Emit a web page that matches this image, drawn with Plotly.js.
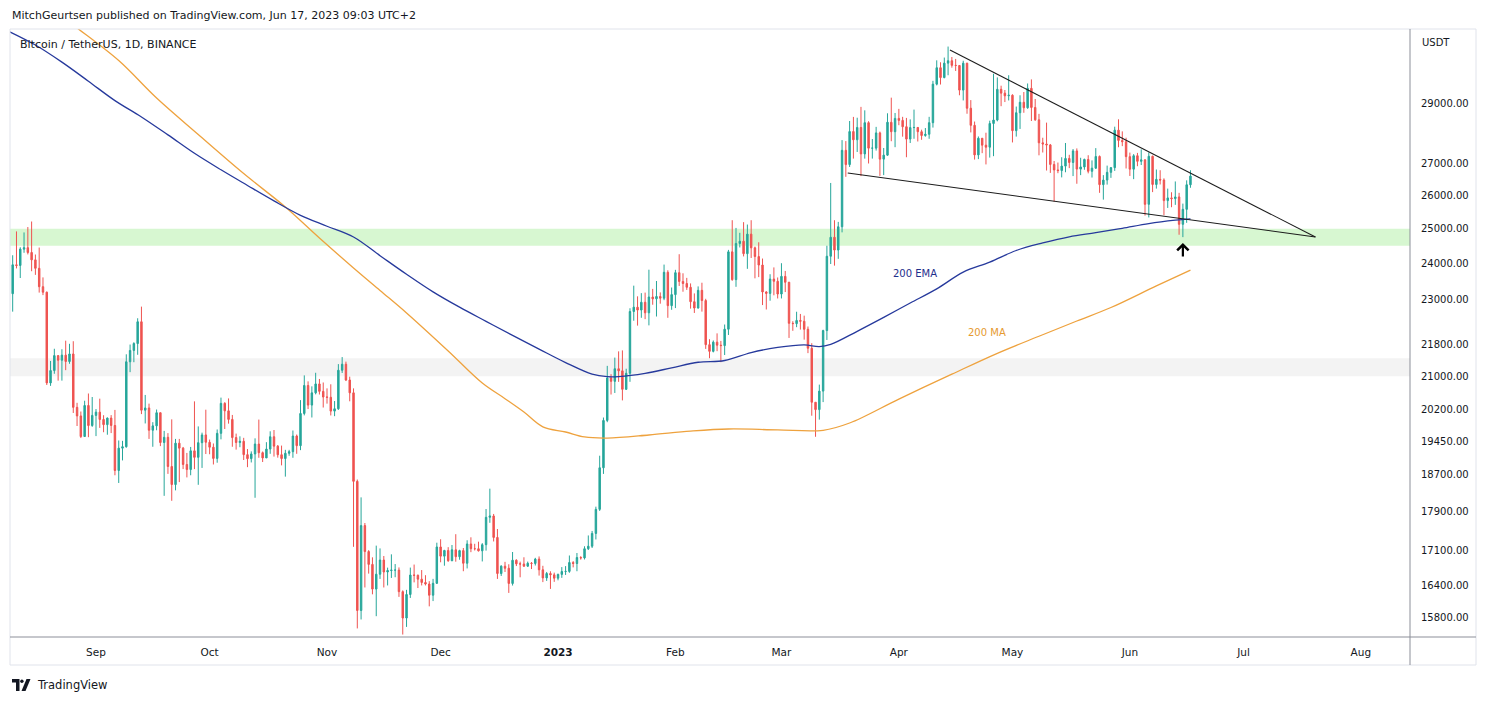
<!DOCTYPE html>
<html>
<head>
<meta charset="utf-8">
<script src="https://cdn.plot.ly/plotly-3.0.1.min.js"></script>
<style>
html,body{margin:0;padding:0;background:#fff;}
#chart{width:1488px;height:703px;}
</style>
</head>
<body>
<div id="chart"></div>
<script>
// ---- Daily candles BTC/USDT, first candle 2022-08-10 ----
const firstDay = '2022-08-10';
const open = [
// Aug
23150,23954,23935,24401,24443,24305,24094,23855,23342,23191,20834,21140,21517,21400,21529,21368,21559,20241,20037,19555,20285,19811,
// Sep
20050,20127,19953,19832,19986,19812,18786,19289,19320,21361,21649,21826,22395,20173,20226,19701,19803,20113,19417,19537,18875,18477,19402,19289,18920,18807,19227,19080,19413,19592,
// Oct
19423,19310,19056,19629,20337,20158,19955,19531,19417,19446,19141,19051,19157,19382,19185,19067,19268,19550,19334,19139,19053,19172,19208,19567,19345,20095,20771,20295,20591,20809,20627,
// Nov
20490,20483,20151,20207,21148,21299,20905,20591,18547,15922,17602,17070,16813,16330,16619,16900,16663,16692,16700,16700,16280,15781,16226,16603,16598,16522,16458,16428,16212,16442,
// Dec
17163,16978,17092,16886,17106,16967,17089,16836,17224,17128,17127,17085,17209,17775,17803,17357,16633,16778,16737,16439,16896,16824,16821,16778,16836,16832,16919,16706,16547,16633,16607,
// Jan
16542,16616,16672,16675,16850,16831,16950,16943,17127,17178,17440,17943,18847,19930,20955,20872,21186,21133,20677,21072,22668,22784,22707,22917,22633,23060,23009,23074,23027,23743,22826,
// Feb
23125,23732,23488,23431,23326,22932,22762,23242,22963,21797,21625,21862,21783,21773,22199,24324,23538,24566,24631,24271,24838,24439,24189,23947,23198,23158,23554,23492,
// Mar
23141,23629,23465,22354,22346,22430,22409,22197,21705,20363,20187,20633,22163,24197,24746,24375,25055,27423,26965,28038,27767,28175,27307,28333,27493,27494,27994,27139,27268,28348,28033,
// Apr
28478,28411,28199,27790,28169,28175,28033,27906,27948,28333,29653,30235,29884,30399,30485,30319,30315,29445,30397,28822,28245,27276,27817,27591,27525,28307,28422,29473,29340,29248,
// May
29268,28068,28669,29026,28838,29506,28848,28430,27668,27628,27599,26969,26795,26775,26917,27162,27033,27405,26821,26890,27129,26753,26851,27225,26334,26476,26719,26868,28085,27745,27702,
// Jun
27219,26819,27249,27069,27116,25728,27230,26339,26498,26477,25841,25925,25902,25954,25128,25576,26330
];
const high = [
24226,24918,24456,24888,25047,25211,24247,24447,23600,23208,21382,21692,21522,21680,21900,21819,21886,20350,20142,20400,20575,20490,
20200,20450,20054,20000,20056,20180,19464,19456,21550,21800,21860,22488,22799,20540,20330,19890,20189,20115,19686,19634,19956,19500,19500,19316,19180,19316,20385,19790,19645,20185,
19485,19395,19719,20475,20365,20456,20060,19623,19560,19525,19268,19215,19513,19951,19212,19425,19676,19706,19360,19347,19250,19250,19695,19601,20415,21020,20872,20750,21085,20931,20845,
20700,20800,20393,21302,21480,21365,20988,20700,18587,18199,17656,17099,16954,17190,17134,16981,16749,17014,16820,16753,16305,16315,16750,16810,16613,16701,16600,16483,16528,17250,
17320,17105,17159,17203,17424,17107,17142,17299,17360,17227,17271,17241,17950,18387,17846,17531,16796,16864,16816,17061,16915,16868,16955,16869,16860,16944,16972,16785,16664,16677,16650,
16630,16760,16779,16991,16879,17041,16977,17177,17398,17491,18000,19117,19999,21258,21050,21467,21625,21650,21186,22755,23371,23078,23165,23180,23816,23282,23500,23185,23960,23800,23320,
23812,24255,23715,23587,23433,23158,23350,23452,23011,21938,21906,22090,21894,22322,24380,25250,25021,24877,25192,25121,25250,24476,24600,24132,23219,23689,23880,23598,
23999,23781,23476,22410,22662,22603,22557,22270,21834,20370,20792,22185,24500,26386,25250,25200,27756,27724,28390,28528,28500,28868,28750,28383,27792,28194,28037,27499,28650,29184,28660,
28800,28530,28494,28444,28775,28188,28100,28155,28530,29770,30500,30430,30600,31000,30620,30550,30320,30485,30412,29100,28372,27877,27820,28000,28400,30020,29890,29599,29449,29968,
29300,28879,29266,29379,29677,29820,29138,28631,27834,28336,27630,27080,27030,27200,27662,27279,27465,27485,27183,27155,27265,27099,27495,27258,26631,26932,26888,28200,28447,28044,27835,
27350,27300,27340,27455,27133,27355,27253,26808,26786,26530,26210,26098,26433,26080,25750,26468,26785
];
const low = [
22664,23852,23583,24296,24250,23773,23671,23180,23111,20783,20761,21060,20890,20890,21150,21310,20107,19800,19520,19550,19540,19780,
19565,19755,19655,19597,19635,18680,18511,19011,19300,21100,21350,21538,20080,19860,19500,19320,19700,19335,18232,18711,18125,18350,18530,18817,18633,18680,18816,18471,18843,19155,
19150,18920,18959,19490,19730,19855,19320,19255,19310,19020,18860,18965,18190,19070,18975,19064,19160,19097,19073,18900,18650,19115,19070,19160,19243,20050,20200,20000,20554,20550,20237,
20330,20048,20031,20180,21080,20880,20386,17166,15588,15754,16361,16631,16229,15815,16527,16361,16400,16546,16560,16180,15476,15616,16160,16460,16350,16400,16400,16000,16100,16428,
16855,16787,16865,16878,16867,16906,16678,16733,17058,17092,17071,16872,17089,17660,17275,16527,16585,16663,16256,16398,16780,16559,16763,16765,16721,16791,16592,16465,16488,16333,16470,
16500,16548,16605,16647,16754,16678,16908,16911,17101,17142,17316,17909,18710,19889,20550,20588,20860,20408,20661,20861,22422,22293,22500,22464,22300,22850,22534,22878,22974,22500,22714,
22760,23363,23204,23253,22745,22629,22745,22665,21688,21451,21599,21630,21351,21532,22048,23506,23339,24450,24192,23840,24148,23574,23608,22841,22722,22959,23106,23020,
23020,23195,21971,22157,22252,22189,21927,21580,20042,19549,19950,20367,21918,23976,23930,24124,24890,26578,26889,27157,27370,26601,27155,27000,27157,27415,26606,26631,27243,27720,27525,
28250,27869,27200,27662,27800,27711,27766,27868,27800,28170,29610,29640,29860,29967,30236,30120,29266,29088,28634,28010,27125,27140,27331,26970,27189,27235,28379,28891,29033,29088,
27680,27872,28125,28667,28802,28390,28395,27262,27353,26777,26702,25811,26692,26560,26722,26852,26601,26361,26631,26800,26687,26555,26829,26080,25871,26335,26545,26765,27524,27559,26841,
26605,26505,26914,26951,25388,25333,26102,26210,26339,25400,25619,25640,25712,24820,24750,25172,26236
];
const close = [
23954,23935,24403,24442,24305,24094,23855,23342,23191,20834,21140,21517,21400,21529,21368,21559,20241,20037,19555,20285,19811,20050,
20127,19953,19832,19986,19812,18786,19289,19320,21361,21649,21826,22395,20173,20226,19701,19803,20113,19417,19537,18875,18477,19402,19289,18920,18807,19227,19080,19413,19592,19423,
19310,19056,19629,20337,20158,19955,19531,19417,19446,19141,19051,19157,19382,19185,19067,19268,19550,19334,19139,19053,19172,19208,19567,19345,20095,20771,20295,20591,20809,20627,20490,
20483,20151,20207,21148,21299,20905,20591,18547,15922,17602,17070,16813,16330,16619,16900,16663,16692,16700,16700,16280,15781,16226,16603,16598,16522,16458,16428,16212,16442,17163,
16978,17092,16886,17106,16967,17089,16836,17224,17128,17127,17085,17209,17775,17803,17357,16633,16778,16737,16439,16896,16824,16821,16778,16836,16832,16919,16706,16547,16633,16607,16542,
16616,16672,16675,16850,16831,16950,16943,17127,17178,17440,17943,18847,19930,20955,20872,21186,21133,20677,21072,22668,22784,22707,22917,22633,23060,23009,23074,23027,23743,22826,23125,
23732,23488,23431,23326,22932,22762,23242,22963,21797,21625,21862,21783,21773,22199,24324,23538,24566,24631,24271,24838,24439,24189,23947,23198,23158,23554,23492,23141,
23629,23465,22354,22346,22430,22409,22197,21705,20363,20187,20633,22163,24197,24746,24375,25055,27423,26965,28038,27767,28175,27307,28333,27493,27494,27994,27139,27268,28348,28033,28478,
28411,28199,27790,28169,28175,28033,27906,27948,28333,29653,30235,29884,30399,30485,30319,30315,29445,30397,28822,28245,27276,27817,27591,27525,28307,28422,29473,29340,29248,29268,
28068,28669,29026,28838,29506,28848,28430,27668,27628,27599,26969,26795,26775,26917,27162,27033,27405,26821,26890,27129,26753,26851,27225,26334,26476,26719,26868,28085,27745,27702,27219,
26819,27249,27069,27116,25728,27230,26339,26498,26477,25841,25925,25902,25954,25128,25576,26330,26600
];

// ---- 200 EMA (blue) and 200 MA (orange) ----
const emaDates = ['2022-08-09','2022-08-16','2022-08-23','2022-08-30','2022-09-06','2022-09-13','2022-09-20','2022-09-27','2022-10-04','2022-10-11','2022-10-18','2022-10-25','2022-11-01','2022-11-08','2022-11-15','2022-11-22','2022-11-29','2022-12-06','2022-12-13','2022-12-20','2022-12-27','2023-01-03','2023-01-10','2023-01-14','2023-01-17','2023-01-24','2023-01-31','2023-02-07','2023-02-14','2023-02-21','2023-02-28','2023-03-07','2023-03-11','2023-03-14','2023-03-21','2023-03-28','2023-04-04','2023-04-11','2023-04-18','2023-04-25','2023-05-02','2023-05-09','2023-05-16','2023-05-23','2023-05-30','2023-06-06','2023-06-13','2023-06-17'];
const emaValues = [31560,31056,30434,29756,29083,28527,27928,27326,26799,26308,25833,25396,25070,24755,24214,23688,23200,22784,22406,22037,21684,21341,21051,20987,20989,21070,21209,21349,21393,21594,21725,21790,21748,21804,22144,22511,22896,23282,23748,24031,24362,24580,24760,24880,25010,25150,25250,25290];
const maDates = ['2022-08-22','2022-08-27','2022-09-07','2022-09-17','2022-09-28','2022-10-10','2022-10-21','2022-10-30','2022-11-08','2022-11-15','2022-11-22','2022-12-03','2022-12-12','2022-12-18','2022-12-23','2022-12-28','2023-01-03','2023-01-08','2023-01-14','2023-01-25','2023-02-05','2023-02-15','2023-02-28','2023-03-12','2023-03-19','2023-04-01','2023-04-15','2023-04-27','2023-05-08','2023-05-18','2023-05-27','2023-06-08','2023-06-17'];
const maValues = [32240,31690,30490,29170,27940,26680,25647,24724,23865,23239,22629,21635,20830,20450,20130,19780,19660,19545,19520,19590,19680,19730,19710,19700,19870,20440,21050,21575,22015,22415,22775,23365,23805];

// ---- Wedge lines ----
const upperLineDates = ['2023-04-14 12:00','2023-07-20'];
const upperLineValues = [30874,24754];
const lowerLineDates = ['2023-03-18 12:00','2023-07-20'];
const lowerLineValues = [26700,24754];

// ---- Zones ----
const greenZone = [24500,25000];
const greyZone = [21000,21450];

// ---- Axis ticks ----
const monthTicks = ['2022-09-01','2022-10-01','2022-11-01','2022-12-01','2023-01-01','2023-02-01','2023-03-01','2023-04-01','2023-05-01','2023-06-01','2023-07-01','2023-08-01'];
const monthLabels = ['Sep','Oct','Nov','Dec','<b>2023</b>','Feb','Mar','Apr','May','Jun','Jul','Aug'];
const priceTicks = [15800,16400,17100,17900,18700,19450,20200,21000,21800,23000,24000,25000,26000,27000,29000];

// ---- build ----
const dates = close.map((_, i) => {
  const d = new Date(Date.UTC(2022, 7, 10 + i));
  return d.toISOString().slice(0, 10);
});

const yLo = Math.log10(15431), yHi = Math.log10(31650);
const yp = v => (Math.log10(v) - yLo) / (yHi - yLo);
const px2x = px => (px - 10) / 1400;
const py2y = py => (637 - py) / 608;
const P = (a, b) => px2x(a) + ',' + py2y(b);

const traces = [
  {type:'candlestick', x:dates, open:open, high:high, low:low, close:close,
   increasing:{line:{color:'#26a69a', width:1}, fillcolor:'#26a69a'},
   decreasing:{line:{color:'#ef5350', width:1}, fillcolor:'#ef5350'},
   whiskerwidth:0, hoverinfo:'skip'},
  {type:'scatter', mode:'lines', x:maDates, y:maValues, line:{color:'#eea23e', width:1.3, shape:'spline', smoothing:1}, hoverinfo:'skip'},
  {type:'scatter', mode:'lines', x:emaDates, y:emaValues, line:{color:'#26399c', width:1.3, shape:'spline', smoothing:1}, hoverinfo:'skip'},
  {type:'scatter', mode:'lines', x:upperLineDates, y:upperLineValues, line:{color:'#1c1c1c', width:1.1}, hoverinfo:'skip'},
  {type:'scatter', mode:'lines', x:lowerLineDates, y:lowerLineValues, line:{color:'#1c1c1c', width:1.1}, hoverinfo:'skip'}
];

const layout = {
  width:1488, height:703,
  margin:{l:10, r:78, t:29, b:66},
  paper_bgcolor:'#ffffff', plot_bgcolor:'#ffffff',
  showlegend:false,
  boxgap:0.45,
  font:{family:'DejaVu Sans, Verdana, sans-serif', size:10, color:'#131722'},
  xaxis:{type:'date', range:['2022-08-09 07:00','2023-08-13 23:20'],
    tickmode:'array', tickvals:monthTicks, ticktext:monthLabels,
    showgrid:false, zeroline:false, showline:false,
    ticks:'outside', ticklen:5, tickcolor:'rgba(0,0,0,0)',
    tickfont:{size:10.5, color:'#131722'},
    rangeslider:{visible:false}, fixedrange:true},
  yaxis:{type:'log', side:'right', range:[yLo, yHi],
    tickmode:'array', tickvals:priceTicks, ticktext:priceTicks.map(v => v.toFixed(2)),
    showgrid:false, zeroline:false, showline:false,
    ticks:'outside', ticklen:8, tickcolor:'rgba(0,0,0,0)',
    tickfont:{size:10, color:'#131722'}, fixedrange:true},
  shapes:[
    {type:'rect', layer:'below', xref:'paper', yref:'paper', x0:0, x1:1, y0:yp(greenZone[0]), y1:yp(greenZone[1]), fillcolor:'#d7f7d1', line:{width:0}},
    {type:'rect', layer:'below', xref:'paper', yref:'paper', x0:0, x1:1, y0:yp(greyZone[0]), y1:yp(greyZone[1]), fillcolor:'#f3f3f3', line:{width:0}},
    {type:'rect', xref:'paper', yref:'paper', x0:0, x1:px2x(1476), y0:py2y(665), y1:1, line:{color:'#e0e3eb', width:1}},
    {type:'line', xref:'paper', yref:'paper', x0:1, x1:1, y0:py2y(665), y1:1, line:{color:'#8c8f99', width:1}},
    {type:'line', xref:'paper', yref:'paper', x0:0, x1:px2x(1476), y0:0, y1:0, line:{color:'#8c8f99', width:1}},
    {type:'path', xref:'paper', yref:'paper', path:'M'+P(12,679)+' L'+P(19.5,679)+' L'+P(19.5,691)+' L'+P(16,691)+' L'+P(16,682.5)+' L'+P(12,682.5)+' Z', fillcolor:'#131722', line:{width:0}},
    {type:'circle', xref:'paper', yref:'paper', x0:px2x(20.2), x1:px2x(23.6), y0:py2y(683), y1:py2y(679.6), fillcolor:'#131722', line:{width:0}},
    {type:'path', xref:'paper', yref:'paper', path:'M'+P(21.5,691)+' L'+P(25.5,691)+' L'+P(30.5,679)+' L'+P(26.5,679)+' Z', fillcolor:'#131722', line:{width:0}}
  ],
  annotations:[
    {xref:'paper', yref:'paper', x:px2x(10), y:py2y(15), xanchor:'left', yanchor:'middle', showarrow:false,
     text:'MitchGeurtsen published on TradingView.com, Jun 17, 2023 09:03 UTC+2', font:{size:11, color:'#131722'}},
    {xref:'paper', yref:'paper', x:px2x(18), y:py2y(44), xanchor:'left', yanchor:'middle', showarrow:false,
     text:'Bitcoin / TetherUS, 1D, BINANCE', font:{size:11, color:'#131722'}},
    {xref:'paper', yref:'paper', x:px2x(1420), y:py2y(42), xanchor:'left', yanchor:'middle', showarrow:false,
     text:'USDT', font:{size:10, color:'#131722'}},
    {xref:'paper', yref:'paper', x:px2x(35), y:py2y(685), xanchor:'left', yanchor:'middle', showarrow:false,
     text:'TradingView', font:{size:11.5, color:'#131722'}},
    {xref:'x', yref:'y', x:'2023-04-05 06:00', y:Math.log10(23719), showarrow:false, xanchor:'center', yanchor:'middle',
     text:'200 EMA', font:{size:10, color:'#1f2f8c'}},
    {xref:'x', yref:'y', x:'2023-04-24 06:00', y:Math.log10(22101), showarrow:false, xanchor:'center', yanchor:'middle',
     text:'200 MA', font:{size:10, color:'#e69a30'}},
    {xref:'x', yref:'y', x:'2023-06-15', y:Math.log10(24580), text:'', showarrow:true, ax:0, ay:15,
     arrowhead:4, arrowsize:1, arrowwidth:2.2, arrowcolor:'#000000', standoff:0}
  ]
};

Plotly.newPlot('chart', traces, layout, {staticPlot:true, displayModeBar:false});
</script>
</body>
</html>
